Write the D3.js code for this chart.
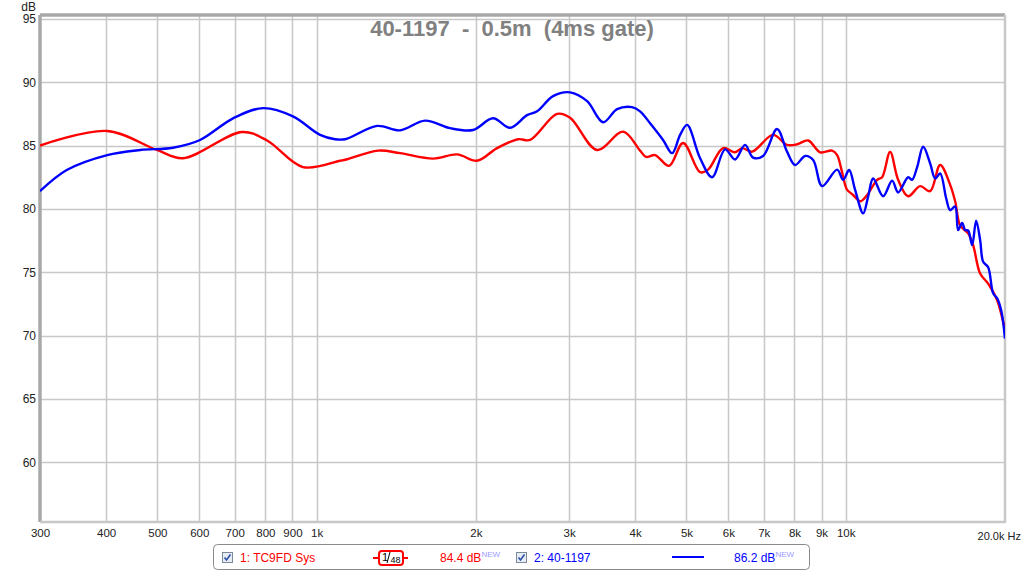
<!DOCTYPE html>
<html>
<head>
<meta charset="utf-8">
<script src="https://cdn.jsdelivr.net/npm/d3@7"></script>
<style>
  html, body { margin: 0; padding: 0; background: #ffffff; }
  svg { display: block; font-family: "Liberation Sans", Arial, sans-serif; }
</style>
</head>
<body>
<svg id="chart" width="1024" height="572"></svg>
<script>
// ---------------- DATA ----------------
const titleText = "40-1197  -  0.5m  (4ms gate)";
const yTicks = [60, 65, 70, 75, 80, 85, 90, 95];
const xTicks = [300, 400, 500, 600, 700, 800, 900, 1000, 2000, 3000, 4000, 5000, 6000, 7000, 8000, 9000, 10000];
const xTickLabels = ["300", "400", "500", "600", "700", "800", "900", "1k", "2k", "3k", "4k", "5k", "6k", "7k", "8k", "9k", "10k"];
const xEndLabel = "20.0k Hz";
const yUnit = "dB";

const seriesNames = ["1: TC9FD Sys", "2: 40-1197"];
const seriesLevels = ["84.4 dB", "86.2 dB"];

// Series 1: TC9FD Sys (red)
const redFreq = [300, 402, 499, 559, 723, 806, 942, 1107, 1142, 1307, 1437, 1660, 1843, 2010, 2193, 2403, 2531, 2847, 3013, 3389, 3795, 4086, 4194, 4362, 4636, 4928, 5306, 5494, 5864, 6178, 6370, 6653, 7290, 7749, 8094, 8491, 8946, 9425, 9633, 9802, 9974, 10061, 10327, 10647, 10976, 11465, 11717, 12132, 12562, 13120, 13824, 14439, 15082, 15753, 16100, 16454, 17036, 17411, 17950, 18587, 19329, 19841, 20000];
const redDb = [85.0, 86.15, 84.65, 84.0, 86.07, 85.4, 83.3, 83.8, 83.92, 84.6, 84.4, 83.97, 84.3, 83.8, 84.8, 85.5, 85.44, 87.5, 87.2, 84.65, 86.1, 84.6, 84.1, 84.25, 83.4, 85.2, 82.9, 83.1, 84.8, 84.47, 84.8, 84.52, 85.84, 85.05, 85.1, 85.4, 84.47, 84.6, 84.25, 83.2, 81.9, 81.5, 81.1, 80.6, 81.1, 82.3, 82.5, 84.5, 82.3, 81.0, 81.8, 81.4, 83.47, 81.9, 80.6, 78.7, 78.07, 77.15, 74.9, 74.1, 72.8, 71.1, 70.5];

// Series 2: 40-1197 (blue)
const blueFreq = [300, 337, 402, 464, 535, 602, 695, 792, 902, 1015, 1083, 1132, 1301, 1437, 1603, 1788, 1975, 2155, 2320, 2499, 2610, 2798, 3013, 3245, 3479, 3697, 3946, 4086, 4268, 4516, 4697, 4864, 5014, 5306, 5590, 5915, 6178, 6453, 6682, 6979, 7418, 7749, 8024, 8381, 8678, 9024, 9633, 9888, 10149, 10417, 10787, 11024, 11267, 11768, 12238, 12562, 13120, 13351, 13645, 14006, 14439, 14757, 15082, 15482, 15753, 16100, 16311, 16598, 16815, 17036, 17336, 17640, 17950, 18186, 18587, 18995, 19329, 19669, 20000];
const blueDb = [81.4, 83.07, 84.25, 84.65, 84.83, 85.44, 87.15, 87.95, 87.3, 85.84, 85.5, 85.5, 86.55, 86.2, 86.97, 86.37, 86.23, 87.15, 86.4, 87.4, 87.7, 88.9, 89.2, 88.5, 86.84, 87.87, 88.03, 87.7, 86.76, 85.44, 84.4, 85.84, 86.63, 84.0, 82.5, 84.7, 83.9, 85.05, 84.05, 84.18, 86.3, 84.5, 83.47, 84.18, 83.86, 81.8, 83.1, 82.3, 83.07, 81.5, 79.65, 80.97, 82.4, 81.0, 82.23, 81.3, 82.5, 82.3, 83.3, 84.9, 83.6, 82.4, 82.8, 80.84, 79.9, 80.2, 78.33, 78.9, 78.33, 78.3, 77.15, 79.07, 77.54, 75.83, 75.4, 73.34, 72.95, 72.0, 69.77];

// ---------------- LAYOUT ----------------
const svg = d3.select("#chart");
const plot = { left: 40, right: 1005, top: 15, bottom: 522 };

const x = d3.scaleLog().domain([300, 20000]).range([plot.left, plot.right]);
const y = d3.scaleLinear().domain([55.3, 95.3]).range([plot.bottom, plot.top]);

// plot background
svg.append("rect")
  .attr("x", plot.left).attr("y", plot.top)
  .attr("width", plot.right - plot.left).attr("height", plot.bottom - plot.top)
  .attr("fill", "#ffffff");

// gridlines
const grid = svg.append("g").attr("stroke", "#c8c8c8").attr("stroke-width", 1.5);
xTicks.slice(1).forEach(f => {
  const xx = Math.round(x(f)) + 0.5;
  grid.append("line").attr("x1", xx).attr("x2", xx).attr("y1", plot.top).attr("y2", plot.bottom);
});
yTicks.forEach(v => {
  const yy = Math.round(y(v)) + 0.5;
  grid.append("line").attr("x1", plot.left).attr("x2", plot.right).attr("y1", yy).attr("y2", yy);
});

// frame (beveled look)
svg.append("line").attr("x1", plot.left).attr("x2", plot.right).attr("y1", plot.top).attr("y2", plot.top)
  .attr("stroke", "#a8a8a8").attr("stroke-width", 3.5);
svg.append("line").attr("x1", plot.left).attr("x2", plot.left).attr("y1", plot.top).attr("y2", plot.bottom)
  .attr("stroke", "#a8a8a8").attr("stroke-width", 3.5);
svg.append("line").attr("x1", plot.right).attr("x2", plot.right).attr("y1", plot.top).attr("y2", plot.bottom + 1)
  .attr("stroke", "#c8c8c8").attr("stroke-width", 2.5);
svg.append("line").attr("x1", plot.left).attr("x2", plot.right).attr("y1", plot.bottom).attr("y2", plot.bottom)
  .attr("stroke", "#c8c8c8").attr("stroke-width", 2.5);

// y axis labels
const yAxis = d3.axisLeft(y).tickValues(yTicks).tickSize(0).tickPadding(0).tickFormat(d3.format("d"));
const yg = svg.append("g").attr("transform", `translate(${plot.left - 4},0)`).call(yAxis);
yg.select(".domain").remove();
yg.selectAll("text").attr("font-size", 12).attr("fill", "#222").attr("font-family", "Liberation Sans, Arial, sans-serif");
svg.append("text").attr("x", plot.left - 4).attr("y", 11).attr("text-anchor", "end")
  .attr("font-size", 12).attr("fill", "#222").text(yUnit);

// x axis labels
const xAxis = d3.axisBottom(x).tickValues(xTicks).tickSize(0).tickPadding(0)
  .tickFormat(d => xTickLabels[xTicks.indexOf(d)]);
const xg = svg.append("g").attr("transform", `translate(0,${plot.bottom + 7})`).call(xAxis);
xg.select(".domain").remove();
xg.selectAll("text").attr("font-size", 11.5).attr("fill", "#222").attr("font-family", "Liberation Sans, Arial, sans-serif");
svg.append("text").attr("x", 1021).attr("y", 540).attr("text-anchor", "end")
  .attr("font-size", 11).attr("fill", "#222").text(xEndLabel);

// title
svg.append("text").attr("x", 512).attr("y", 36).attr("text-anchor", "middle")
  .attr("xml:space", "preserve")
  .attr("font-size", 22).attr("font-weight", "bold").attr("fill", "#808080")
  .style("white-space", "pre").text(titleText);

// curves
const line = d3.line().x(d => x(d[0])).y(d => y(d[1])).curve(d3.curveCatmullRom.alpha(0.5));
const clip = svg.append("clipPath").attr("id", "clip").append("rect")
  .attr("x", plot.left).attr("y", plot.top).attr("width", plot.right - plot.left).attr("height", plot.bottom - plot.top);
const curves = svg.append("g").attr("clip-path", "url(#clip)");
curves.append("path").datum(redFreq.map((f, i) => [f, redDb[i]]))
  .attr("d", line).attr("fill", "none").attr("stroke", "#ff0000").attr("stroke-width", 2.4).attr("stroke-linejoin", "round");
curves.append("path").datum(blueFreq.map((f, i) => [f, blueDb[i]]))
  .attr("d", line).attr("fill", "none").attr("stroke", "#0000ff").attr("stroke-width", 2.4).attr("stroke-linejoin", "round");

// ---------------- LEGEND ----------------
const lg = svg.append("g");
lg.append("rect").attr("x", 213.5).attr("y", 544.5).attr("width", 596).attr("height", 25).attr("rx", 4)
  .attr("fill", "#ffffff").attr("stroke", "#8a8a8a").attr("stroke-width", 1);

function checkbox(cx) {
  const g = lg.append("g").attr("transform", `translate(${cx},552)`);
  g.append("rect").attr("x", 0.5).attr("y", 0.5).attr("width", 10).attr("height", 10)
    .attr("fill", "#e8ecf4").attr("stroke", "#7a8a99").attr("stroke-width", 1);
  g.append("path").attr("d", "M2.5,5.5 L4.5,8 L8.5,2.5").attr("fill", "none")
    .attr("stroke", "#2a4fa8").attr("stroke-width", 1.6);
}
checkbox(222);
checkbox(516);

lg.append("text").attr("x", 240).attr("y", 562).attr("font-size", 12).attr("fill", "#ff0000").text(seriesNames[0]);
lg.append("text").attr("x", 534).attr("y", 562).attr("font-size", 12).attr("fill", "#0000ff").text(seriesNames[1]);

// smoothing indicator (red)
lg.append("line").attr("x1", 373).attr("x2", 408).attr("y1", 558).attr("y2", 558).attr("stroke", "#ff0000").attr("stroke-width", 2);
lg.append("rect").attr("x", 379).attr("y", 551).attr("width", 24).attr("height", 14).attr("rx", 3)
  .attr("fill", "#ffffff").attr("stroke", "#ff0000").attr("stroke-width", 2);
lg.append("text").attr("x", 382).attr("y", 561).attr("font-size", 11).attr("fill", "#000").text("1");
lg.append("line").attr("x1", 387).attr("x2", 390).attr("y1", 563).attr("y2", 552).attr("stroke", "#000").attr("stroke-width", 1);
lg.append("text").attr("x", 390.5).attr("y", 563).attr("font-size", 9).attr("fill", "#000").text("48");

// blue line indicator
lg.append("line").attr("x1", 672).attr("x2", 704).attr("y1", 557).attr("y2", 557).attr("stroke", "#0000ff").attr("stroke-width", 2);

// levels
function level(xp, txt, col) {
  const t = lg.append("text").attr("x", xp).attr("y", 562).attr("font-size", 12).attr("fill", col);
  t.append("tspan").text(txt);
  t.append("tspan").attr("dy", -5).attr("font-size", 8).attr("fill", "#9a9aff").text("NEW");
}
level(440, seriesLevels[0], "#ff0000");
level(734, seriesLevels[1], "#0000ff");
</script>
</body>
</html>
